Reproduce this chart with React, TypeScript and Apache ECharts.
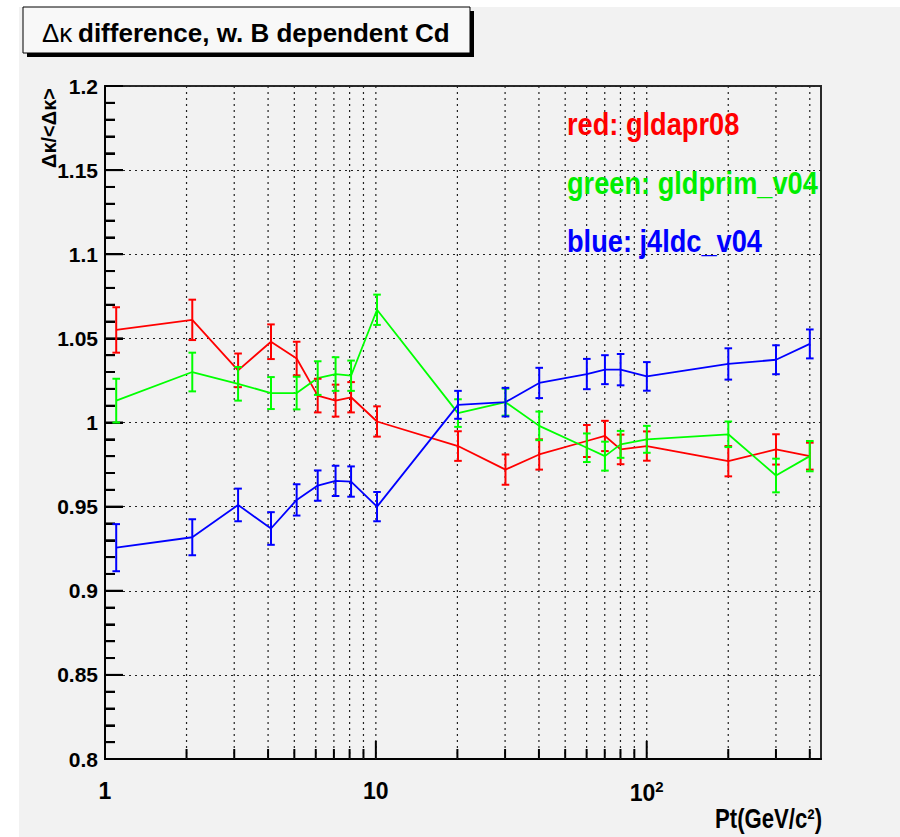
import React, { useEffect, useRef } from "react";
import * as echarts from "echarts";

const xValues = [1.1, 2.1, 3.1, 4.1, 5.1, 6.1, 7.1, 8.1, 10.1, 20.1, 30.1, 40.1, 60.1, 70.1, 80.1, 100.1, 200.1, 300.1, 400.1];

const redValues = [1.055, 1.061, 1.031, 1.048, 1.038, 1.016, 1.013, 1.015, 1.0006, 0.986, 0.972, 0.981, 0.989, 0.992, 0.984, 0.986, 0.977, 0.984, 0.98];
const redErrors = [0.0135, 0.012, 0.01, 0.0103, 0.01, 0.01, 0.0095, 0.009, 0.009, 0.0088, 0.009, 0.009, 0.0095, 0.009, 0.0088, 0.0087, 0.009, 0.009, 0.008];

const greenValues = [1.013, 1.03, 1.023, 1.0175, 1.0175, 1.0264, 1.0288, 1.0278, 1.067, 1.0056, 1.0121, 0.998, 0.985, 0.98, 0.987, 0.99, 0.993, 0.9685, 0.98];
const greenErrors = [0.013, 0.0115, 0.01, 0.0095, 0.0097, 0.01, 0.01, 0.009, 0.009, 0.0082, 0.008, 0.0085, 0.0085, 0.0086, 0.008, 0.008, 0.0076, 0.01, 0.009];

const blueValues = [0.9256, 0.9318, 0.951, 0.937, 0.954, 0.9625, 0.9653, 0.9649, 0.95, 1.0105, 1.0121, 1.0235, 1.0288, 1.0314, 1.0314, 1.0274, 1.0348, 1.0373, 1.0467];
const blueErrors = [0.014, 0.0107, 0.0097, 0.0097, 0.0093, 0.009, 0.009, 0.009, 0.0087, 0.0083, 0.0085, 0.009, 0.009, 0.0086, 0.0093, 0.0085, 0.0093, 0.0086, 0.0086];

const xGridValues = [2, 3, 4, 5, 6, 7, 8, 9, 10, 20, 30, 40, 50, 60, 70, 80, 90, 100, 200, 300, 400];
const xMajorTicks = [10, 100];
const xTickLabels: Record<number, string> = { 1: "1", 10: "10", 100: "10{s|2}" };

const yMajorTicks = [0.8, 0.85, 0.9, 0.95, 1.0, 1.05, 1.1, 1.15, 1.2];
const yMinorPerMajor = 5;

const titleSymbol = "Δκ";
const titleText = "difference, w. B dependent Cd";
const yAxisTitle = "Δκ/<Δκ>";
const xAxisTitle = "Pt(GeV/c²)";
const legendLines = [
  { text: "red: gldapr08", color: "#ff0000" },
  { text: "green: gldprim_v04", color: "#00ee00" },
  { text: "blue: j4ldc_v04", color: "#0000ff" },
];

const SANS = "'Liberation Sans', Arial, sans-serif";

function pairs(xs: number[], ys: number[]) {
  return xs.map((x, i) => [x, ys[i]]);
}
function triples(xs: number[], ys: number[], es: number[]) {
  return xs.map((x, i) => [x, ys[i], es[i]]);
}

function errorBarSeries(data: number[][], color: string) {
  return {
    type: "custom",
    z: 4,
    clip: true,
    data,
    encode: { x: 0, y: 1 },
    renderItem: (params: any, api: any) => {
      const x = api.value(0);
      const y = api.value(1);
      const e = api.value(2);
      const top = api.coord([x, y + e]);
      const bot = api.coord([x, y - e]);
      const hw = 3.8;
      const style = { stroke: color, lineWidth: 2 };
      return {
        type: "group",
        children: [
          { type: "line", shape: { x1: top[0], y1: top[1], x2: bot[0], y2: bot[1] }, style },
          { type: "line", shape: { x1: top[0] - hw, y1: top[1], x2: top[0] + hw, y2: top[1] }, style },
          { type: "line", shape: { x1: bot[0] - hw, y1: bot[1], x2: bot[0] + hw, y2: bot[1] }, style },
        ],
      };
    },
  };
}

function lineSeries(data: number[][], color: string) {
  return {
    type: "line",
    z: 3,
    data,
    symbol: "none",
    lineStyle: { color, width: 1.8 },
    itemStyle: { color },
  };
}

export default function App() {
  const ref = useRef<HTMLDivElement>(null);
  useEffect(() => {
    if (!ref.current) return;
    const chart = echarts.init(ref.current, null, { renderer: "svg" });

    const yTickData: number[][] = [];
    for (let i = 0; i < yMajorTicks.length; i++) {
      yTickData.push([1.5, yMajorTicks[i], 1]);
      if (i < yMajorTicks.length - 1) {
        const step = (yMajorTicks[i + 1] - yMajorTicks[i]) / yMinorPerMajor;
        for (let k = 1; k < yMinorPerMajor; k++) yTickData.push([1.5, yMajorTicks[i] + k * step, 0]);
      }
    }

    const option: any = {
      animation: false,
      backgroundColor: "#ffffff",
      grid: {
        left: 105,
        top: 86,
        right: 79,
        bottom: 78,
        show: true,
        backgroundColor: "#f2f2f2",
        borderColor: "#2a2a2a",
        borderWidth: 2,
      },
      xAxis: {
        type: "log",
        logBase: 10,
        min: 1,
        max: 440,
        axisLine: { show: true, lineStyle: { color: "#000", width: 2 } },
        axisTick: { show: false },
        splitLine: { show: false },
        minorTick: { show: false },
        axisLabel: {
          margin: 20,
          color: "#000",
          fontFamily: SANS,
          fontWeight: "bold",
          fontSize: 23,
          rich: {
            s: { fontFamily: SANS, fontWeight: "bold", fontSize: 15, color: "#000", padding: [0, 0, 12, 0] },
          },
          formatter: (v: number) => {
            const k = Math.round(v);
            return xTickLabels[k] !== undefined && Math.abs(v - k) < 1e-6 ? xTickLabels[k] : "";
          },
        },
      },
      yAxis: {
        type: "value",
        min: 0.8,
        max: 1.2,
        interval: 0.05,
        axisLine: { show: true, lineStyle: { color: "#000", width: 2 } },
        axisTick: { show: true, inside: true, length: 18, lineStyle: { color: "#000", width: 2 } },
        minorTick: { show: true, splitNumber: 5, length: 10, lineStyle: { color: "#000", width: 2 } },
        splitLine: { show: true, lineStyle: { color: "#222", width: 1.2, type: [2, 4] } },
        axisLabel: {
          margin: 7,
          color: "#000",
          fontFamily: SANS,
          fontWeight: "bold",
          fontSize: 21,
          padding: [8, 0, 0, 0],
          formatter: (v: number) => String(parseFloat(v.toFixed(2))),
        },
      },
      graphic: [
        { type: "rect", z: -10, shape: { x: 19, y: 7, width: 881, height: 830 }, style: { fill: "#f2f2f2" } },
        { type: "rect", z: 10, shape: { x: 27, y: 11, width: 447, height: 46 }, style: { fill: "#000" } },
        { type: "rect", z: 11, shape: { x: 23, y: 7, width: 447, height: 46 }, style: { fill: "#f8f8f8", stroke: "#000", lineWidth: 1 } },
        { type: "text", z: 12, x: 42, y: 33, style: { text: titleSymbol, font: `26px ${SANS}`, fill: "#000", verticalAlign: "middle", align: "left" } },
        { type: "text", z: 12, x: 78, y: 33, style: { text: titleText, font: `bold 26px ${SANS}`, fill: "#000", verticalAlign: "middle", align: "left" } },
        { type: "text", z: 12, x: 49, y: 128, rotation: Math.PI / 2, style: { text: yAxisTitle, font: `bold 20px ${SANS}`, fill: "#000", verticalAlign: "middle", align: "center" } },
        { type: "text", z: 12, x: 822, y: 819, scaleX: 0.82, style: { text: xAxisTitle, font: `bold 27px ${SANS}`, fill: "#000", verticalAlign: "middle", align: "right" } },
        ...legendLines.map((l, i) => ({
          type: "text",
          z: 12,
          x: 567,
          y: 124 + i * 58.5,
          scaleX: 0.85,
          style: { text: l.text, font: `bold 32px ${SANS}`, fill: l.color, verticalAlign: "middle", align: "left" },
        })),
      ],
      series: [
        {
          type: "custom",
          z: 2,
          clip: false,
          silent: true,
          data: xGridValues.map((v) => [v, 1]),
          encode: { x: 0, y: 1 },
          renderItem: (params: any, api: any) => {
            const v = api.value(0);
            const top = api.coord([v, 1.2]);
            const bot = api.coord([v, 0.8]);
            return { type: "line", shape: { x1: top[0], y1: top[1], x2: bot[0], y2: bot[1] }, style: { stroke: "#222", lineWidth: 1.2, lineDash: [2, 4] } };
          },
        },
        {
          type: "custom",
          z: 4,
          clip: true,
          data: xGridValues.map((v) => [v, 0.9]),
          encode: { x: 0, y: 1 },
          renderItem: (params: any, api: any) => {
            const v = api.value(0);
            const bot = api.coord([v, 0.8]);
            const len = xMajorTicks.indexOf(v) >= 0 ? 18 : 10;
            return { type: "line", shape: { x1: bot[0], y1: bot[1] - 1, x2: bot[0], y2: bot[1] - len }, style: { stroke: "#000", lineWidth: 2 } };
          },
        },
        {
          type: "custom",
          z: 4,
          clip: true,
          data: yTickData,
          encode: { x: 0, y: 1 },
          renderItem: (params: any, api: any) => {
            const p = api.coord([1, api.value(1)]);
            const len = api.value(2) > 0.5 ? 18 : 10;
            return { type: "line", shape: { x1: p[0] + 1, y1: p[1], x2: p[0] + len, y2: p[1] }, style: { stroke: "#000", lineWidth: 2 } };
          },
        },
        lineSeries(pairs(xValues, redValues), "#ff0000"),
        lineSeries(pairs(xValues, greenValues), "#00ff00"),
        lineSeries(pairs(xValues, blueValues), "#0000ff"),
        errorBarSeries(triples(xValues, redValues, redErrors), "#ff0000"),
        errorBarSeries(triples(xValues, greenValues, greenErrors), "#00ff00"),
        errorBarSeries(triples(xValues, blueValues, blueErrors), "#0000ff"),
      ],
    };
    chart.setOption(option);
    return () => chart.dispose();
  }, []);
  return <div ref={ref} style={{ position: "fixed", left: 0, top: 0, width: 900, height: 837 }} />;
}
